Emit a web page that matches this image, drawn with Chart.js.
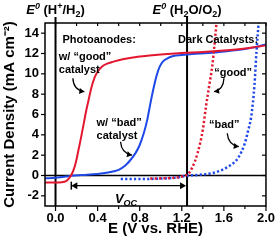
<!DOCTYPE html>
<html>
<head>
<meta charset="utf-8">
<script src="https://cdn.jsdelivr.net/npm/chart.js@4"></script>
<style>
  html, body { margin: 0; padding: 0; background: #fff; }
  #wrap { width: 280px; height: 242px; }
</style>
</head>
<body>
<div id="wrap"><canvas id="myChart" width="280" height="242"></canvas></div>
<script>
// photoanode with "good" catalyst (solid red)
const goodAnodeE = [-0.10, 0.00, 0.06, 0.10, 0.13, 0.15, 0.18, 0.20, 0.22, 0.24, 0.27, 0.29, 0.32, 0.34, 0.37, 0.40, 0.44, 0.49, 0.55, 0.65, 0.80, 1.00, 1.20, 1.40, 1.60, 1.80, 2.00];
const goodAnodeJ = [-0.68, -0.68, -0.66, -0.55, -0.25, 0.05, 0.8, 1.6, 2.6, 3.6, 5.2, 6.3, 7.7, 8.6, 9.6, 10.2, 10.7, 11.0, 11.2, 11.45, 11.7, 11.9, 12.05, 12.15, 12.3, 12.5, 12.8];
// photoanode with "bad" catalyst (solid blue)
const badAnodeE = [-0.10, 0.00, 0.10, 0.15, 0.25, 0.40, 0.50, 0.60, 0.66, 0.71, 0.76, 0.80, 0.84, 0.87, 0.90, 0.93, 0.96, 0.99, 1.02, 1.06, 1.12, 1.20, 1.30, 1.45, 1.60, 1.80, 1.93, 2.00];
const badAnodeJ = [-0.28, -0.22, -0.10, -0.02, 0.05, 0.15, 0.30, 0.55, 0.95, 1.5, 2.2, 3.0, 4.2, 5.4, 7.0, 8.5, 9.8, 10.7, 11.2, 11.5, 11.75, 11.85, 11.95, 12.05, 12.2, 12.45, 12.7, 12.9];
// dark catalysts (dotted)
const goodDarkE = [0.90, 1.00, 1.15, 1.22, 1.26, 1.30, 1.35, 1.40, 1.43, 1.46, 1.49, 1.51, 1.53];
const goodDarkJ = [-0.3, -0.28, -0.2, -0.05, 0.15, 0.8, 2.2, 4.5, 6.8, 8.8, 10.8, 12.8, 15.0];
const badDarkE = [0.62, 0.80, 1.00, 1.15, 1.26, 1.35, 1.47, 1.56, 1.63, 1.70, 1.74, 1.80, 1.83, 1.86, 1.89, 1.91, 1.93];
const badDarkJ = [-0.35, -0.35, -0.3, -0.2, 0.0, 0.05, 0.2, 0.45, 0.8, 1.3, 1.8, 3.2, 4.4, 5.8, 8.8, 12.2, 15.0];

// axis ticks
const xTicks = [0.0, 0.2, 0.4, 0.6, 0.8, 1.0, 1.2, 1.4, 1.6, 1.8, 2.0];
const xLabels = ['0.0', '', '0.4', '', '0.8', '', '1.2', '', '1.6', '', '2.0'];
const yTicks = [-2, 0, 2, 4, 6, 8, 10, 12, 14];

// reference potentials E0(H+/H2) and E0(H2O/O2)
const refE = [0, 1.25];
const vocStart = 0.15;
const vocLevel = -1.0;

const RED = '#e3172f';
const BLUE = '#1f49e6';
const FONT = '"Liberation Sans", Arial, Helvetica, sans-serif';

function pts(xs, ys) {
  return xs.map((x, i) => ({ x: x, y: ys[i] }));
}

function line(ctx, x0, y0, x1, y1) {
  ctx.beginPath();
  ctx.moveTo(x0, y0);
  ctx.lineTo(x1, y1);
  ctx.stroke();
}

function head(ctx, x, y, ang, len, half) {
  const c = Math.cos(ang), s = Math.sin(ang);
  ctx.beginPath();
  ctx.moveTo(x, y);
  ctx.lineTo(x - len * c + half * s, y - len * s - half * c);
  ctx.lineTo(x - len * c - half * s, y - len * s + half * c);
  ctx.closePath();
  ctx.fill();
}

function curvedArrow(ctx, x0, y0, cx, cy, x1, y1) {
  ctx.beginPath();
  ctx.moveTo(x0, y0);
  ctx.quadraticCurveTo(cx, cy, x1, y1);
  ctx.stroke();
  head(ctx, x1, y1, Math.atan2(y1 - cy, x1 - cx), 5, 3);
}

// draws text made of runs: [text, size, italic, dy]
function rich(ctx, x, y, parts, align) {
  let w = 0;
  parts.forEach(p => {
    ctx.font = (p[2] ? 'italic ' : '') + 'bold ' + p[1] + 'px ' + FONT;
    w += ctx.measureText(p[0]).width;
  });
  let cx = align === 'center' ? x - w / 2 : x;
  ctx.textAlign = 'left';
  ctx.textBaseline = 'alphabetic';
  parts.forEach(p => {
    ctx.font = (p[2] ? 'italic ' : '') + 'bold ' + p[1] + 'px ' + FONT;
    ctx.fillText(p[0], cx, y + (p[3] || 0));
    cx += ctx.measureText(p[0]).width;
  });
}

const decor = {
  id: 'decor',
  beforeDatasetsDraw(chart) {
    const { ctx, chartArea: a, scales: { x, y } } = chart;
    ctx.save();
    ctx.strokeStyle = '#000';
    ctx.lineWidth = 1.5;
    const y0 = y.getPixelForValue(0);
    line(ctx, a.left, y0, a.right, y0);
    ctx.lineWidth = 2;
    refE.forEach(v => {
      const px = x.getPixelForValue(v);
      line(ctx, px, a.top - 6, px, a.bottom);
    });
    ctx.restore();
  },
  afterDraw(chart) {
    const { ctx, chartArea: a, scales: { x, y } } = chart;
    const X = v => x.getPixelForValue(v);
    const Y = v => y.getPixelForValue(v);
    ctx.save();
    ctx.strokeStyle = '#000';
    ctx.fillStyle = '#000';

    // frame
    ctx.lineWidth = 1.5;
    ctx.strokeRect(a.left, a.top, a.right - a.left, a.bottom - a.top);

    // tick marks
    ctx.lineWidth = 1.2;
    x.ticks.forEach((t, i) => {
      const px = X(t.value);
      line(ctx, px, a.bottom, px, a.bottom + (xLabels[i] ? 5 : 3));
      line(ctx, px, a.top, px, a.top + 3);
    });
    y.ticks.forEach(t => {
      const py = Y(t.value);
      line(ctx, a.left - 4, py, a.left, py);
      line(ctx, a.right - 4, py, a.right, py);
    });

    // reference potential labels above the plot
    rich(ctx, X(refE[0]), a.top - 9, [['E', 13, true], ['0', 9, true, -5], [' (H', 13], ['+', 9, false, -5], ['/H', 13], ['2', 9, false, 3], [')', 13]], 'center');
    rich(ctx, X(refE[1]), a.top - 9, [['E', 13, true], ['0', 9, true, -5], [' (H', 13], ['2', 9, false, 3], ['O/O', 13], ['2', 9, false, 3], [')', 13]], 'center');

    // annotations
    rich(ctx, X(0.415), Y(13.47) + 4, [['Photoanodes:', 11]], 'center');
    rich(ctx, X(1.545), Y(13.47) + 4, [['Dark Catalysts:', 11]], 'center');
    rich(ctx, X(0.031), Y(11.75) + 4, [['w/ \u201cgood\u201d', 11]], 'left');
    rich(ctx, X(0.031), Y(10.44) + 4, [['catalyst', 11]], 'left');
    rich(ctx, X(0.39), Y(5.29) + 4, [['w/ \u201cbad\u201d', 11]], 'left');
    rich(ctx, X(0.39), Y(3.98) + 4, [['catalyst', 11]], 'left');
    rich(ctx, X(1.688), Y(10.15) + 4, [['\u201cgood\u201d', 11]], 'center');
    rich(ctx, X(1.604), Y(5.06) + 4, [['\u201cbad\u201d', 11]], 'center');

    // pointer arrows
    ctx.lineWidth = 1.3;
    curvedArrow(ctx, X(0.165), Y(9.56), X(0.17), Y(8.4), X(0.274), Y(8.24));
    curvedArrow(ctx, X(0.618), Y(3.32), X(0.625), Y(2.2), X(0.727), Y(2.0));
    curvedArrow(ctx, X(1.601), Y(9.56), X(1.595), Y(8.4), X(1.507), Y(8.24));
    curvedArrow(ctx, X(1.632), Y(4.15), X(1.641), Y(3.0), X(1.742), Y(2.83));

    // open-circuit voltage arrow
    const xl = X(vocStart), xr = X(refE[1]) - 1, py = Y(vocLevel);
    ctx.lineWidth = 1.3;
    line(ctx, xl + 3, py, xr - 3, py);
    head(ctx, xl, py, Math.PI, 6, 3.5);
    head(ctx, xr, py, 0, 6, 3.5);
    ctx.lineWidth = 1.5;
    line(ctx, xl, py - 4, xl, py + 4);
    rich(ctx, X(0.67), Y(-2.2) + 5, [['V', 13, true], ['OC', 9, true, 3]], 'center');

    ctx.restore();
  }
};

const ctx = document.getElementById('myChart');

new Chart(ctx, {
  type: 'line',
  data: {
    datasets: [
      { data: pts(goodDarkE, goodDarkJ), borderColor: RED, borderWidth: 2.5, borderDash: [2.2, 2.2], pointRadius: 0, cubicInterpolationMode: 'monotone' },
      { data: pts(badDarkE, badDarkJ), borderColor: BLUE, borderWidth: 2.5, borderDash: [2.2, 2.2], pointRadius: 0, cubicInterpolationMode: 'monotone' },
      { data: pts(goodAnodeE, goodAnodeJ), borderColor: RED, borderWidth: 2, pointRadius: 0, cubicInterpolationMode: 'monotone' },
      { data: pts(badAnodeE, badAnodeJ), borderColor: BLUE, borderWidth: 2, pointRadius: 0, cubicInterpolationMode: 'monotone' }
    ]
  },
  options: {
    responsive: false,
    animation: false,
    events: [],
    layout: { padding: { top: 23, right: 11, left: 0, bottom: 0 } },
    plugins: { legend: { display: false }, tooltip: { enabled: false } },
    scales: {
      x: {
        type: 'linear',
        min: -0.1,
        max: 2.0,
        grid: { display: false, drawTicks: false },
        border: { display: false },
        afterBuildTicks: s => { s.ticks = xTicks.map(v => ({ value: v })); },
        ticks: {
          autoSkip: false,
          maxRotation: 0,
          padding: 5,
          color: '#000',
          font: { family: FONT, size: 13, weight: 'bold' },
          callback: (v, i) => xLabels[i]
        },
        title: {
          display: true,
          text: 'E (V vs. RHE)',
          color: '#000',
          font: { family: FONT, size: 15, weight: 'bold' },
          padding: { top: 0, bottom: 4 }
        },
        afterFit: s => { s.height = 36; }
      },
      y: {
        min: -3,
        max: 15,
        grid: { display: false, drawTicks: false },
        border: { display: false },
        afterBuildTicks: s => { s.ticks = yTicks.map(v => ({ value: v })); },
        ticks: {
          autoSkip: false,
          padding: 6,
          color: '#000',
          font: { family: FONT, size: 13, weight: 'bold' },
          callback: v => String(v)
        },
        title: {
          display: true,
          text: 'Current Density (mA cm\u207b\u00b2)',
          color: '#000',
          font: { family: FONT, size: 15, weight: 'bold' },
          padding: { top: 1, bottom: 0 }
        },
        afterFit: s => { s.width = 45; }
      }
    }
  },
  plugins: [decor]
});
</script>
</body>
</html>
